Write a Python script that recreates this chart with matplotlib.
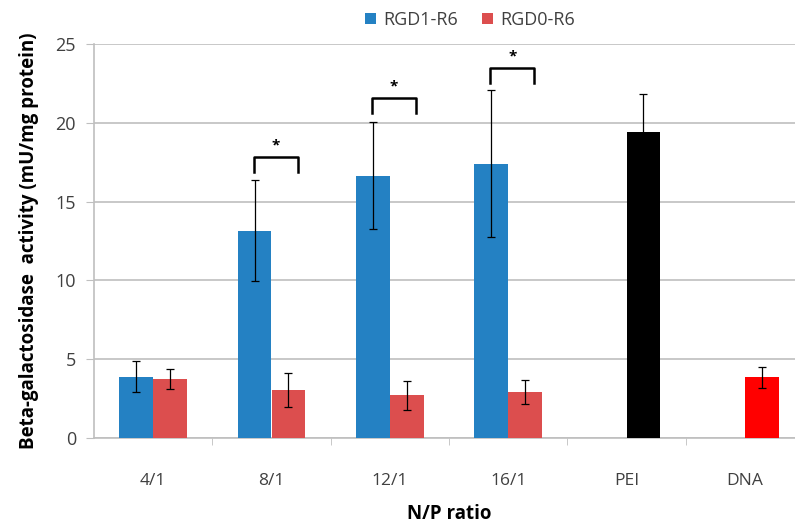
import numpy as np
import matplotlib.pyplot as plt

# valores
categorias = ['4/1', '8/1', '12/1', '16/1', 'PEI', 'DNA']
rgd1 = [3.9, 13.15, 16.65, 17.4]
rgd1_err = [1.0, 3.2, 3.4, 4.65]
rgd0 = [3.75, 3.05, 2.7, 2.9]
rgd0_err = [0.65, 1.1, 0.9, 0.75]
pei, pei_err = 19.4, 2.4
dna, dna_err = 3.85, 0.65

# colchetes de significância (grupo, altura)
colchete_grupo = [1, 2, 3]
colchete_topo = [17.8, 21.55, 23.45]

cor_azul = '#2481C3'
cor_verm = '#DC4E4E'
cinza = '#BFBFBF'
texto = '#404040'

plt.rcParams['font.family'] = ['Open Sans', 'DejaVu Sans']

fig = plt.figure(figsize=(7.95, 5.32), dpi=100)
ax = fig.add_axes([94/795, 94/532, 710/795, 394/532])

x = np.arange(len(categorias))
w = 0.285
n = len(rgd1)
err = dict(elinewidth=0.9, capthick=0.9)

ax.bar(x[:n] - w/2, rgd1, w, yerr=rgd1_err, color=cor_azul, label='RGD1-R6',
       ecolor='black', capsize=3, error_kw=err, zorder=3)
ax.bar(x[:n] + w/2, rgd0, w, yerr=rgd0_err, color=cor_verm, label='RGD0-R6',
       ecolor='black', capsize=3, error_kw=err, zorder=3)
ax.bar(x[4] + w/2, pei, w, yerr=pei_err, color='black',
       ecolor='black', capsize=3, error_kw=err, zorder=3)
ax.bar(x[5] + w/2, dna, w, yerr=dna_err, color='#FF0000',
       ecolor='black', capsize=3, error_kw=err, zorder=3)

for g, h in zip(colchete_grupo, colchete_topo):
    x0, x1 = g - 0.15, g + 0.22
    ax.plot([x0, x0, x1, x1], [h - 0.9, h, h, h - 0.9], color='black', lw=1.8, zorder=4)
    ax.text((x0 + x1) / 2, h + 0.3, '*', ha='center', va='bottom', fontsize=11,
            fontweight='bold', color='black')

ax.set_xlim(-0.5, 5.5)
ax.set_ylim(0, 25)
ax.set_yticks(np.arange(0, 26, 5))
ax.yaxis.grid(True, color=cinza, lw=1.2)
ax.set_axisbelow(True)
ax.set_xticks(x)
ax.set_xticklabels(categorias)
ax.set_xticks(np.arange(0.5, 5.5, 1), minor=True)
ax.tick_params(axis='x', which='major', length=0, pad=25, labelsize=12.5, labelcolor=texto)
ax.tick_params(axis='x', which='minor', length=5, color=cinza, direction='out')
ax.tick_params(axis='y', length=6, color=cinza, labelsize=13, labelcolor=texto, pad=7)

for s in ['top', 'right']:
    ax.spines[s].set_visible(False)
for s in ['left', 'bottom']:
    ax.spines[s].set_color(cinza)
    ax.spines[s].set_linewidth(1.2)

ax.set_ylabel('Beta-galactosidase  activity (mU/mg protein)', fontsize=13.5,
              fontweight='bold', labelpad=12)
ax.set_xlabel('N/P ratio', fontsize=13.5, fontweight='bold', labelpad=11)

fig.legend(loc='upper center', bbox_to_anchor=(470/795, 1.01), ncol=2, frameon=False,
           fontsize=13, handlelength=0.6, handleheight=0.6, columnspacing=1.3,
           handletextpad=0.4, labelcolor=texto)

fig.savefig('out.png', dpi=100)
